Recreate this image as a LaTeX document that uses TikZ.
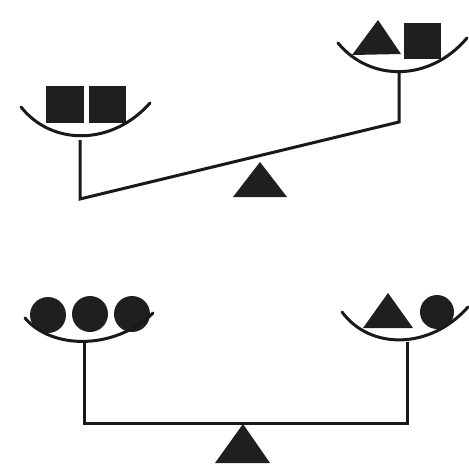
\documentclass[tikz,border=0pt]{standalone}
\begin{document}
\begin{tikzpicture}[x=1pt,y=-1pt,
  bar/.style={line width=3pt,line join=miter,black!90},
  pan/.style={line width=3pt,line cap=round,black!90},
  solid/.style={fill=black!88,draw=none}]
\useasboundingbox (0,0) rectangle (469,469);
% ---- top scale ----
\coordinate (tl) at (80,140);
\coordinate (tlb) at (80,199);
\coordinate (trb) at (399,122);
\coordinate (tr) at (399,73);
\draw[bar] (tl) -- (tlb) -- (trb) -- (tr);
\fill[solid] (46,86) rectangle (84,123);
\fill[solid] (89,86) rectangle (126,123);
\draw[pan] (21,107) .. controls (52,146) and (112,146) .. (150,103);
\fill[solid] (378,20) -- (352,55) -- (401,54) -- cycle;
\fill[solid] (404,23) rectangle (441,59);
\draw[pan] (338,43) .. controls (370,82) and (430,82) .. (467,38);
\fill[solid] (260,162) -- (233,197) -- (287,197) -- cycle;
% ---- bottom scale ----
\coordinate (bl) at (84,342);
\coordinate (blb) at (84,423);
\coordinate (brb) at (407,423);
\coordinate (br) at (407,342);
\draw[bar] (bl) -- (blb) -- (brb) -- (br);
\fill[solid] (48,315) circle (18);
\fill[solid] (90,314) circle (18);
\fill[solid] (132,314) circle (18);
\draw[pan] (25,318) .. controls (52,350) and (115,350) .. (153,313);
\fill[solid] (388,293) -- (363,328) -- (413,328) -- cycle;
\fill[solid] (437,312) circle (17);
\draw[pan] (342,312) .. controls (370,350) and (430,350) .. (468,307);
\fill[solid] (243,424) -- (215,463) -- (270,463) -- cycle;
\end{tikzpicture}
\end{document}
